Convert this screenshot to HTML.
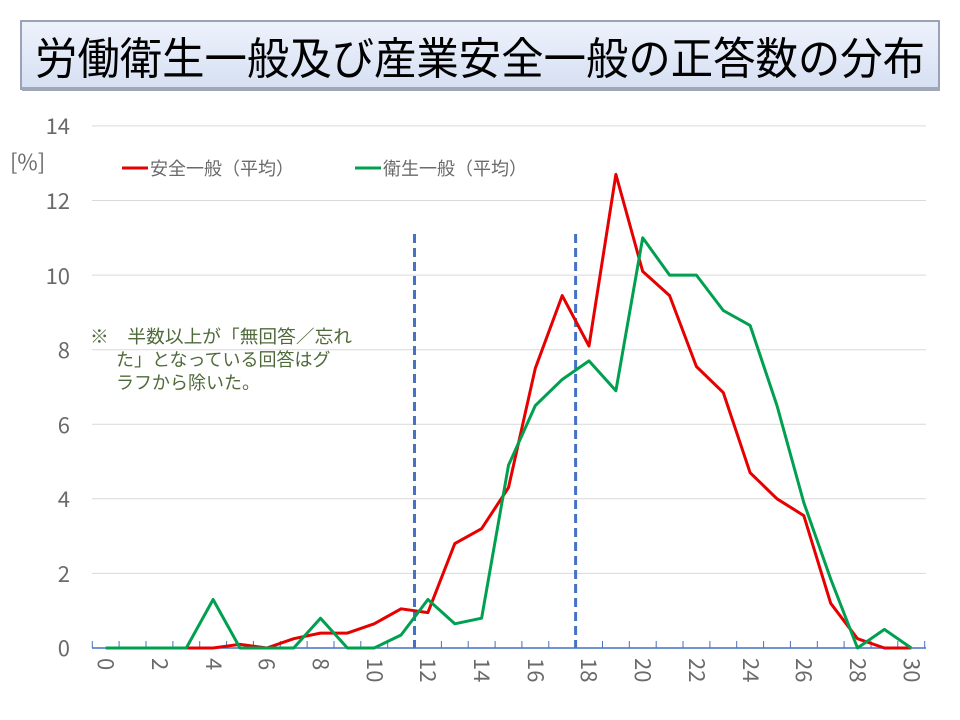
<!DOCTYPE html>
<html><head><meta charset="utf-8"><style>
body{margin:0;width:960px;height:720px;background:#fff;overflow:hidden;font-family:"Liberation Sans","Noto Sans CJK JP",sans-serif}
</style></head><body>
<svg width="960" height="720" xmlns="http://www.w3.org/2000/svg" style="position:absolute;left:0;top:0">
<defs><linearGradient id="g" x1="0" y1="0" x2="0" y2="1"><stop offset="0" stop-color="#eef2fb"/><stop offset="1" stop-color="#d6e0f3"/></linearGradient></defs>
<rect x="21" y="21" width="918" height="68" fill="url(#g)" stroke="#9aa3b5" stroke-width="2"/>
<rect x="22" y="87" width="918" height="4" fill="#a0a8b8"/>
<text x="35" y="74" font-size="44" textLength="890" lengthAdjust="spacingAndGlyphs" fill="#000" font-family="'Noto Sans CJK JP',sans-serif">労働衛生一般及び産業安全一般の正答数の分布</text>
<g stroke="#d9d9d9" stroke-width="1">
<line x1="92" x2="926" y1="573.4" y2="573.4"/><line x1="92" x2="926" y1="498.8" y2="498.8"/><line x1="92" x2="926" y1="424.3" y2="424.3"/><line x1="92" x2="926" y1="349.7" y2="349.7"/><line x1="92" x2="926" y1="275.1" y2="275.1"/><line x1="92" x2="926" y1="200.5" y2="200.5"/><line x1="92" x2="926" y1="125.9" y2="125.9"/>
</g>
<g font-size="22" fill="#6a6a6a" text-anchor="end" font-family="'Noto Sans CJK JP',sans-serif">
<text x="70" y="656">0</text><text x="70" y="582">2</text><text x="70" y="507">4</text><text x="70" y="433">6</text><text x="70" y="358">8</text><text x="70" y="284">10</text><text x="70" y="209">12</text><text x="70" y="134">14</text>
</g>
<text x="10" y="170" font-size="22" fill="#6a6a6a" font-family="'Noto Sans CJK JP',sans-serif">[%]</text>
<line x1="92" x2="926" y1="648" y2="648" stroke="#4472c4" stroke-width="1.5"/>
<g stroke="#4472c4" stroke-width="1">
<line x1="92.3" x2="92.3" y1="641" y2="648"/><line x1="119.1" x2="119.1" y1="641" y2="648"/><line x1="146" x2="146" y1="641" y2="648"/><line x1="172.9" x2="172.9" y1="641" y2="648"/><line x1="199.7" x2="199.7" y1="641" y2="648"/><line x1="226.6" x2="226.6" y1="641" y2="648"/><line x1="253.4" x2="253.4" y1="641" y2="648"/><line x1="280.3" x2="280.3" y1="641" y2="648"/><line x1="307.1" x2="307.1" y1="641" y2="648"/><line x1="334" x2="334" y1="641" y2="648"/><line x1="360.8" x2="360.8" y1="641" y2="648"/><line x1="387.7" x2="387.7" y1="641" y2="648"/><line x1="414.5" x2="414.5" y1="641" y2="648"/><line x1="441.4" x2="441.4" y1="641" y2="648"/><line x1="468.2" x2="468.2" y1="641" y2="648"/><line x1="495.1" x2="495.1" y1="641" y2="648"/><line x1="521.9" x2="521.9" y1="641" y2="648"/><line x1="548.8" x2="548.8" y1="641" y2="648"/><line x1="575.6" x2="575.6" y1="641" y2="648"/><line x1="602.5" x2="602.5" y1="641" y2="648"/><line x1="629.3" x2="629.3" y1="641" y2="648"/><line x1="656.2" x2="656.2" y1="641" y2="648"/><line x1="683" x2="683" y1="641" y2="648"/><line x1="709.9" x2="709.9" y1="641" y2="648"/><line x1="736.7" x2="736.7" y1="641" y2="648"/><line x1="763.6" x2="763.6" y1="641" y2="648"/><line x1="790.4" x2="790.4" y1="641" y2="648"/><line x1="817.3" x2="817.3" y1="641" y2="648"/><line x1="844.1" x2="844.1" y1="641" y2="648"/><line x1="871" x2="871" y1="641" y2="648"/><line x1="897.8" x2="897.8" y1="641" y2="648"/><line x1="924.7" x2="924.7" y1="641" y2="648"/>
</g>
<g font-size="22" fill="#6a6a6a" font-family="'Noto Sans CJK JP',sans-serif">
<text transform="translate(98,658) rotate(90)">0</text><text transform="translate(152,658) rotate(90)">2</text><text transform="translate(206,658) rotate(90)">4</text><text transform="translate(259,658) rotate(90)">6</text><text transform="translate(313,658) rotate(90)">8</text><text transform="translate(367,658) rotate(90)">10</text><text transform="translate(420,658) rotate(90)">12</text><text transform="translate(474,658) rotate(90)">14</text><text transform="translate(528,658) rotate(90)">16</text><text transform="translate(581,658) rotate(90)">18</text><text transform="translate(635,658) rotate(90)">20</text><text transform="translate(689,658) rotate(90)">22</text><text transform="translate(743,658) rotate(90)">24</text><text transform="translate(796,658) rotate(90)">26</text><text transform="translate(850,658) rotate(90)">28</text><text transform="translate(904,658) rotate(90)">30</text>
</g>
<line x1="414.5" x2="414.5" y1="234" y2="648" stroke="#4472c4" stroke-width="3" stroke-dasharray="9,5"/>
<line x1="575.6" x2="575.6" y1="234" y2="648" stroke="#4472c4" stroke-width="3" stroke-dasharray="9,5"/>
<polyline fill="none" stroke="#e60000" stroke-width="3" stroke-linejoin="round" points="186.3,648 213.1,648 240,644.3 266.8,648 293.7,638.7 320.5,633.1 347.4,633.1 374.2,623.8 401.1,608.8 427.9,612.6 454.8,543.6 481.6,528.7 508.5,487.6 535.3,368.3 562.2,295.6 589,346 615.9,174.4 642.7,271.4 669.6,295.6 696.4,366.5 723.3,392.6 750.1,472.7 777,498.8 803.8,515.6 830.7,603.3 857.5,638.7 884.4,648 911.2,648"/>
<polyline fill="none" stroke="#00a050" stroke-width="3" stroke-linejoin="round" points="105.7,648 132.6,648 159.4,648 186.3,648 213.1,599.5 240,648 266.8,648 293.7,648 320.5,618.2 347.4,648 374.2,648 401.1,635 427.9,599.5 454.8,623.8 481.6,618.2 508.5,465.3 535.3,405.6 562.2,379.5 589,360.9 615.9,390.7 642.7,237.8 669.6,275.1 696.4,275.1 723.3,310.5 750.1,325.4 777,405.6 803.8,502.6 830.7,579 857.5,648 884.4,629.4 911.2,648"/>
<line x1="122" x2="148" y1="168" y2="168" stroke="#e60000" stroke-width="3"/>
<text x="150" y="175" font-size="18" fill="#6a6a6a" font-family="'Noto Sans CJK JP',sans-serif">安全一般（平均）</text>
<line x1="355" x2="381" y1="168" y2="168" stroke="#00a050" stroke-width="3"/>
<text x="383" y="175" font-size="18" fill="#6a6a6a" font-family="'Noto Sans CJK JP',sans-serif">衛生一般（平均）</text>
<g font-size="18" fill="#4f6a3a" font-family="'Noto Sans CJK JP',sans-serif">
<text x="90" y="343" textLength="262" lengthAdjust="spacingAndGlyphs">※　半数以上が「無回答／忘れ</text>
<text x="116" y="366">た」となっている回答はグ</text>
<text x="116" y="389">ラフから除いた。</text>
</g>
</svg>
</body></html>
